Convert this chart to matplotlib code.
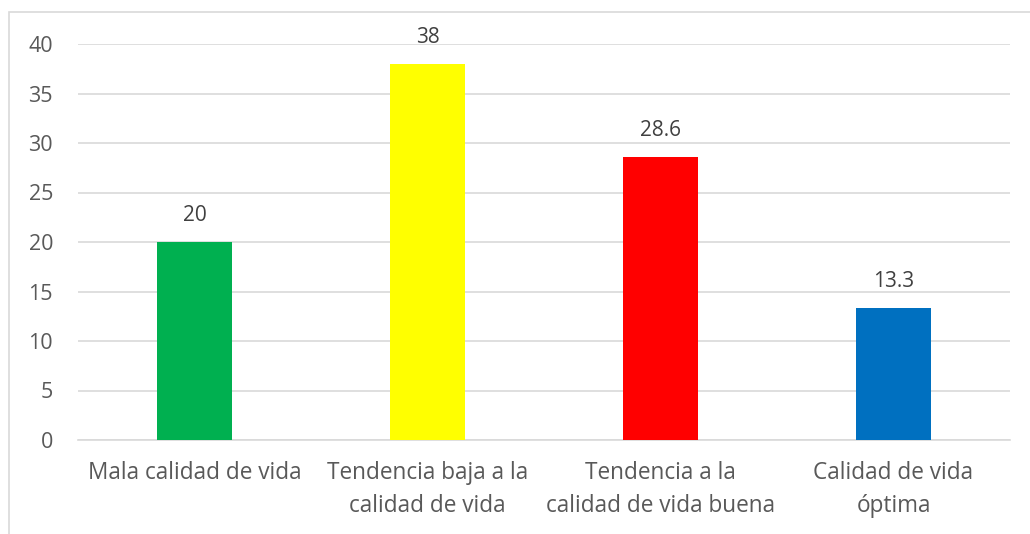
import matplotlib.pyplot as plt
from matplotlib.patches import Rectangle

categorias = ["Mala calidad de vida", "Tendencia baja a la\ncalidad de vida",
              "Tendencia a la\ncalidad de vida buena", "Calidad de vida\nóptima"]
valores = [20, 38, 28.6, 13.3]
etiquetas = ["20", "38", "28.6", "13.3"]
colores = ["#00b050", "#ffff00", "#ff0000", "#0070c0"]

plt.rcParams['font.family'] = ['Open Sans', 'DejaVu Sans']

fig = plt.figure(figsize=(10.30, 5.34), dpi=100)
ax = fig.add_axes([78/1030, 1-440/534, 932/1030, 396/534])

x = range(len(categorias))
bars = ax.bar(x, valores, width=0.32, color=colores, zorder=3)
for b, t in zip(bars, etiquetas):
    ax.text(b.get_x() + b.get_width()/2, b.get_height() + 1.6, t,
            ha='center', va='bottom', fontsize=15, color='#404040')

ax.set_xlim(-0.5, 3.5)
ax.set_ylim(0, 40)
ax.set_yticks(range(0, 41, 5))
ax.yaxis.grid(True, color='#d9d9d9', linewidth=1.2, zorder=0)
ax.set_xticks(list(x))
ax.set_xticklabels(categorias, fontsize=16.3, color='#595959', linespacing=1.5)
ax.tick_params(axis='y', labelsize=15.5, labelcolor='#595959', length=0, pad=18)
ax.tick_params(axis='x', length=0, pad=15)
for s in ['top', 'right', 'left']:
    ax.spines[s].set_visible(False)
ax.spines['bottom'].set_color('#d9d9d9')
ax.spines['bottom'].set_linewidth(1.2)

fig.patches.append(Rectangle((9/1030, -0.1), 1.1, 1-12/534+0.1, transform=fig.transFigure,
                             fill=False, edgecolor='#d9d9d9', linewidth=1.2))

fig.savefig("out.png", dpi=100)
